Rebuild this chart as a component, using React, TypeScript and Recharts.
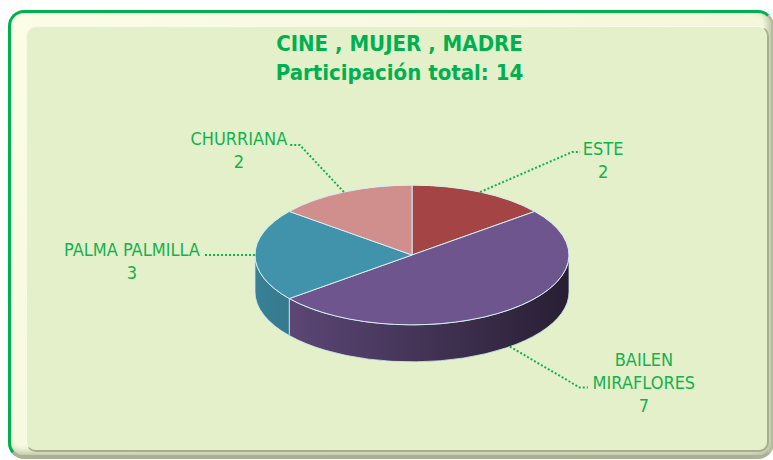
import { Pie, PieChart } from 'recharts'

const districts = ['ESTE', 'BAILEN MIRAFLORES', 'PALMA PALMILLA', 'CHURRIANA']
const participants = [2, 7, 3, 2]
const sliceColors = ['#A54444', '#6F558E', '#4193AB', '#D08E8C']

const titleLines = ['CINE , MUJER , MADRE', 'Participación total: ']
const total = participants.reduce((a, b) => a + b, 0)

const data = districts.map((name, i) => ({ name, value: participants[i] }))

// label placement relative to the slice's rim point (elbow, text centre, first baseline)
const labelLayout = [
  { ex: 92, ey: -40, tail: 8, tx: 123, ty: -37, wrap: false },
  { ex: 70, ey: 41, tail: 8, tx: 134, ty: 19, wrap: true },
  { ex: -40, ey: 0, tail: -10, tx: -123, ty: 1, wrap: false },
  { ex: -44, ey: -47, tail: -10, tx: -105, ty: -47, wrap: false },
]

const W = 773
const H = 460
const TILT = 0.445
const DEPTH = 37
const RAD = Math.PI / 180
const FONT = "'Liberation Sans Narrow', 'DejaVu Sans Condensed', sans-serif"
const GREEN = '#00B050'
const LABEL_GREEN = '#14B150'

const pt = (cx: number, cy: number, r: number, deg: number): [number, number] => [
  cx + r * Math.cos(deg * RAD),
  cy - r * TILT * Math.sin(deg * RAD),
]

function shade(hex: string, k: number) {
  const n = parseInt(hex.slice(1), 16)
  const c = [(n >> 16) & 255, (n >> 8) & 255, n & 255].map((v) => Math.round(v * k))
  return `rgb(${c.join(',')})`
}

function renderWall(props: any) {
  const { cx, cy, outerRadius: r, startAngle, endAngle, index } = props
  const ry = r * TILT
  const lo = Math.min(startAngle, endAngle)
  const hi = Math.max(startAngle, endAngle)
  const parts: [number, number][] = []
  for (const [a, b] of [[-540, -360], [-180, 0], [180, 360]]) {
    const l = Math.max(lo, a)
    const h = Math.min(hi, b)
    if (h > l) parts.push([l, h])
  }
  const fill = sliceColors[index]
  const gid = `wall-${index}`
  return (
    <g key={gid}>
      <defs>
        <linearGradient id={gid} gradientUnits="userSpaceOnUse" x1={cx - r} x2={cx + r} y1={0} y2={0}>
          <stop offset="0%" stopColor={shade(fill, 0.88)} />
          <stop offset="100%" stopColor={shade(fill, 0.36)} />
        </linearGradient>
      </defs>
      {parts.map(([l, h], k) => {
        const [x1, y1] = pt(cx, cy, r, h)
        const [x2, y2] = pt(cx, cy, r, l)
        const large = h - l > 180 ? 1 : 0
        const d = `M${x1},${y1} A${r},${ry} 0 ${large} 1 ${x2},${y2} L${x2},${y2 + DEPTH} A${r},${ry} 0 ${large} 0 ${x1},${y1 + DEPTH} Z`
        return <path key={k} d={d} fill={`url(#${gid})`} stroke="#cfe9ee" strokeWidth={0.8} />
      })}
    </g>
  )
}

function renderTop(props: any) {
  const { cx, cy, outerRadius: r, startAngle, endAngle, index } = props
  const ry = r * TILT
  const [x1, y1] = pt(cx, cy, r, startAngle)
  const [x2, y2] = pt(cx, cy, r, endAngle)
  const large = Math.abs(startAngle - endAngle) > 180 ? 1 : 0
  const sweep = startAngle > endAngle ? 1 : 0
  const d = `M${cx},${cy} L${x1},${y1} A${r},${ry} 0 ${large} ${sweep} ${x2},${y2} Z`
  return (
    <path key={`top-${index}`} d={d} fill={sliceColors[index]} stroke="#d6eef2" strokeWidth={1} strokeLinejoin="round" />
  )
}

function renderLabel(props: any) {
  const { cx, cy, outerRadius: r, midAngle, index, name, value } = props
  const lay = labelLayout[index]
  let [ax, ay] = pt(cx, cy, r, midAngle)
  if (Math.sin(midAngle * RAD) < -0.3) ay += DEPTH
  const exx = ax + lay.ex
  const eyy = ay + lay.ey
  const lines = lay.wrap ? [...String(name).split(' '), String(value)] : [String(name), String(value)]
  return (
    <g key={`lbl-${index}`}>
      <polyline
        points={`${ax},${ay} ${exx},${eyy} ${exx + lay.tail},${eyy}`}
        fill="none"
        stroke={LABEL_GREEN}
        strokeWidth={2}
        strokeDasharray="2 2"
      />
      <text textAnchor="middle" fill={LABEL_GREEN} fontFamily={FONT} fontSize={18}>
        {lines.map((t, k) => (
          <tspan key={k} x={ax + lay.tx} y={ay + lay.ty + k * 23}>
            {t}
          </tspan>
        ))}
      </text>
    </g>
  )
}

export default function App() {
  const pieProps = {
    data,
    dataKey: 'value',
    nameKey: 'name',
    cx: 412,
    cy: 255,
    outerRadius: 157,
    startAngle: 90,
    endAngle: -270,
    fill: 'transparent',
    stroke: 'none',
    labelLine: false,
    isAnimationActive: false,
  }
  return (
    <div style={{ position: 'absolute', left: 0, top: 0, width: W, height: H, overflow: 'hidden', background: '#fff' }}>
      <div
        style={{
          position: 'absolute',
          left: 8,
          top: 10,
          width: 760,
          height: 442,
          borderRadius: 16,
          borderTop: `3px solid ${GREEN}`,
          borderLeft: `3px solid ${GREEN}`,
          borderRight: '3px solid #b4bc9e',
          borderBottom: '4px solid #a9b196',
          background: 'linear-gradient(135deg, #fbfde6 0%, #eef5d4 100%)',
          boxShadow: 'inset -3px -3px 6px #b9c2a2',
        }}
      />
      <div
        style={{
          position: 'absolute',
          left: 26,
          top: 26,
          width: 740,
          height: 423,
          borderRadius: 10,
          background: '#E3F0C9',
          borderTop: '1px solid #f7fbe6',
          borderLeft: '1px solid #f7fbe6',
          borderRight: '2px solid #a6ad92',
          borderBottom: '2px solid #a6ad92',
        }}
      />
      <div
        style={{
          position: 'absolute',
          left: 0,
          top: 29,
          width: 799,
          textAlign: 'center',
          fontFamily: FONT,
          fontWeight: 700,
          fontSize: 22,
          lineHeight: '29px',
          color: GREEN,
        }}
      >
        <div>{titleLines[0]}</div>
        <div>
          {titleLines[1]}
          <span>{total}</span>
        </div>
      </div>
      <div style={{ position: 'absolute', left: 0, top: 0 }}>
        <PieChart width={W} height={H} margin={{ top: 0, right: 0, bottom: 0, left: 0 }}>
          <Pie {...pieProps} label={renderWall} />
          <Pie {...pieProps} label={renderTop} />
          <Pie {...pieProps} label={renderLabel} />
        </PieChart>
      </div>
    </div>
  )
}
